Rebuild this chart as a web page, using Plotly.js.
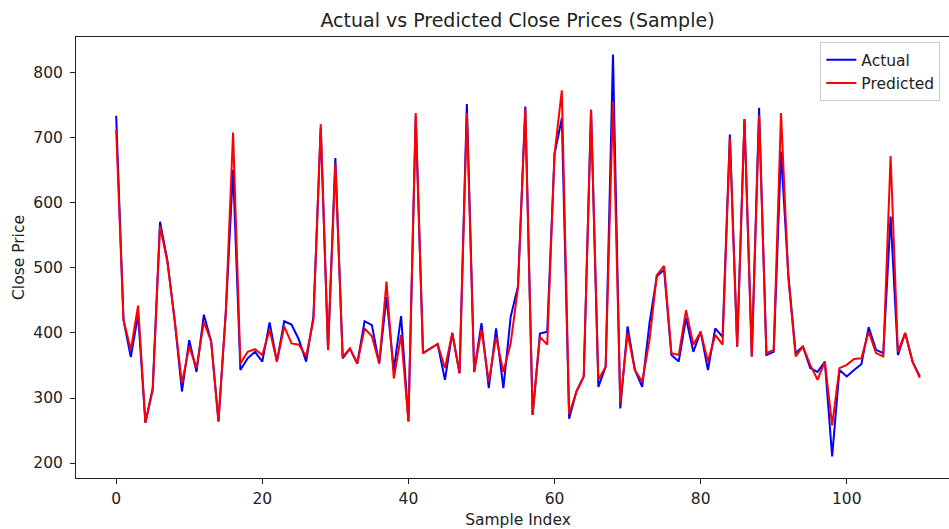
<!DOCTYPE html>
<html>
<head>
<meta charset="utf-8">
<script src="https://cdn.plot.ly/plotly-3.0.1.min.js"></script>
<style>
html,body{margin:0;padding:0;overflow:hidden;background:#fff;}
#chart{width:1000px;height:529px;}
</style>
</head>
<body>
<div id="chart"></div>
<script>
const sampleIndex = Array.from({length: 111}, (_, i) => i);

const actual = [
  734, 420, 363, 428, 262, 315, 571, 512, 420, 310,
  389, 340, 428, 387, 264, 431, 651, 343, 361, 371,
  356, 416, 356, 418, 413, 390, 356, 425, 715, 374,
  669, 361, 376, 353, 418, 412, 353, 455, 343, 426,
  264, 733, 369, 376, 383, 328, 400, 338, 752, 340,
  415, 315, 407, 315, 425, 472, 748, 274, 399, 402,
  675, 730, 268, 310, 333, 743, 317, 348, 828, 284,
  410, 343, 317, 415, 487, 497, 366, 356, 423, 371,
  402, 343, 407, 394, 705, 379, 729, 364, 746, 366,
  371, 679, 490, 369, 379, 346, 340, 356, 210, 343,
  333, 343, 352, 409, 374, 369, 579, 366, 400, 356,
  333
];

const predicted = [
  712, 420, 374, 442, 262, 312, 564, 510, 420, 323,
  379, 346, 417, 387, 264, 431, 708, 353, 371, 375,
  366, 405, 356, 410, 384, 382, 364, 420, 721, 374,
  660, 363, 376, 353, 407, 395, 353, 479, 330, 397,
  264, 738, 369, 376, 383, 346, 400, 338, 738, 340,
  405, 325, 394, 340, 384, 470, 745, 274, 394, 382,
  675, 773, 275, 310, 333, 743, 328, 348, 756, 292,
  400, 343, 325, 389, 489, 503, 369, 366, 435, 382,
  402, 356, 397, 382, 700, 379, 729, 364, 735, 369,
  374, 738, 485, 364, 379, 351, 328, 356, 258, 346,
  351, 360, 361, 402, 369, 364, 672, 371, 400, 356,
  331
];

const xTicks = [0, 20, 40, 60, 80, 100];
const yTicks = [200, 300, 400, 500, 600, 700, 800];

const font = 'DejaVu Sans, sans-serif';
const fs = 15.5;

const traces = [
  {x: sampleIndex, y: actual, type: 'scatter', mode: 'lines', name: 'Actual',
   line: {color: '#0000ff', width: 2}},
  {x: sampleIndex, y: predicted, type: 'scatter', mode: 'lines', name: 'Predicted',
   line: {color: '#ff0000', width: 2}}
];

const axisCommon = {
  showline: true, mirror: true, linecolor: '#222', linewidth: 1,
  ticks: 'outside', ticklen: 5, tickwidth: 1, tickcolor: '#222',
  showgrid: false, zeroline: false,
  tickfont: {family: font, size: fs, color: '#222'}
};

const layout = {
  width: 1000, height: 529,
  margin: {l: 76, r: 40, t: 37, b: 51},
  paper_bgcolor: '#fff', plot_bgcolor: '#fff',
  font: {family: font, color: '#222'},
  title: {text: 'Actual vs Predicted Close Prices (Sample)', font: {family: font, size: 19, color: '#222'},
          x: 0.5175, xanchor: 'center', y: 0.962, yanchor: 'middle'},
  xaxis: Object.assign({}, axisCommon, {
    range: [-5.5, 115.5], tickvals: xTicks, ticktext: xTicks.map(String),
    ticklabelstandoff: 1,
    title: {text: 'Sample Index', font: {family: font, size: fs, color: '#222'}, standoff: 8}
  }),
  yaxis: Object.assign({}, axisCommon, {
    range: [177, 855], tickvals: yTicks, ticktext: yTicks.map(String),
    ticklabelstandoff: 4,
    title: {text: 'Close Price', font: {family: font, size: fs, color: '#222'}, standoff: 4}
  }),
  showlegend: true,
  legend: {x: 0.842, y: 0.988, xanchor: 'left', yanchor: 'top',
           bgcolor: 'rgba(255,255,255,0.8)', bordercolor: '#cccccc', borderwidth: 1,
           font: {family: font, size: fs, color: '#222'}}
};

Plotly.newPlot('chart', traces, layout, {displayModeBar: false, staticPlot: true});
</script>
</body>
</html>
